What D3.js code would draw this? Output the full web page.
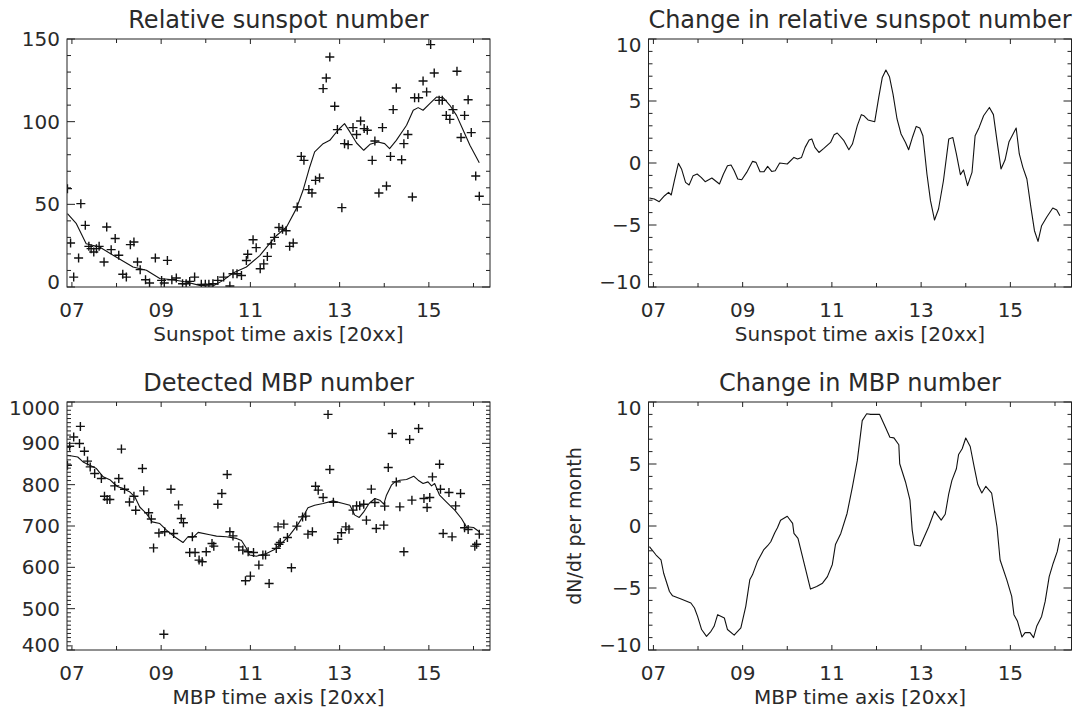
<!DOCTYPE html>
<html>
<head>
<meta charset="utf-8">
<script src="https://cdn.jsdelivr.net/npm/d3@7"></script>
<style>
  html, body { margin: 0; padding: 0; background: #fff; }
  svg { display: block; }
  text { font-family: "DejaVu Sans", sans-serif; fill: #2a2a2a; }
</style>
</head>
<body>
<svg id="chart" width="1088" height="713"></svg>
<script>
// ---------------- DATA ----------------
const xDomain = [2006.89, 2016.37];
const xTickYears = [2007, 2008, 2009, 2010, 2011, 2012, 2013, 2014, 2015, 2016];
const xTickLabels = {2007: "07", 2009: "09", 2011: "11", 2013: "13", 2015: "15"};

// Panel 1: relative sunspot number (monthly crosses + smoothed line)
const sunspotYears = [2006.90,2006.97,2007.04,2007.15,2007.20,2007.30,2007.38,2007.43,2007.49,2007.55,2007.61,2007.72,2007.78,2007.88,2007.97,2008.05,2008.14,2008.22,2008.31,2008.39,2008.47,2008.53,2008.65,2008.74,2008.87,2009.01,2009.07,2009.14,2009.24,2009.34,2009.48,2009.56,2009.64,2009.75,2009.90,2009.99,2010.07,2010.16,2010.27,2010.40,2010.54,2010.61,2010.70,2010.80,2010.91,2010.94,2011.06,2011.13,2011.22,2011.30,2011.38,2011.47,2011.54,2011.64,2011.72,2011.80,2011.88,2011.96,2012.05,2012.14,2012.20,2012.31,2012.38,2012.46,2012.55,2012.63,2012.70,2012.78,2012.89,2012.95,2013.05,2013.11,2013.19,2013.30,2013.38,2013.47,2013.55,2013.62,2013.73,2013.79,2013.88,2013.96,2014.05,2014.14,2014.20,2014.27,2014.39,2014.44,2014.53,2014.63,2014.68,2014.77,2014.87,2014.95,2015.04,2015.12,2015.23,2015.30,2015.39,2015.47,2015.54,2015.63,2015.72,2015.80,2015.88,2015.95,2016.05,2016.13];
const sunspotValues = [59.5,26.6,6,17.5,50.4,37.3,24.6,23.2,21.2,23.2,24.6,15.1,36.3,22.6,29.3,19.2,7.7,6,25.6,27.2,15.1,10.5,4.4,2.4,17.5,4,2.4,16.1,4.4,5.4,2,2,3.4,6,1.6,1.6,1.6,2,4,6,0.6,8,8,7,16,19.8,28.6,23.8,11,14,18.5,26,30,36,35,34,24.6,26.6,48.4,79,76.6,58.9,56.9,64.5,65.9,120,126.4,139.1,109.3,95.2,48,86.7,86.1,96.4,92.2,100.4,95.8,94.8,76.6,88.3,56.9,96.4,61.1,79,107.3,120.4,77,86.7,92.2,54.4,114.5,114.5,124.6,118,146.6,129.4,112.9,112.9,103.8,101.4,107.3,130.5,90.4,103.8,113.3,93.4,67.1,54.9];
const sunspotSmoothYears = [2006.90,2007.10,2007.32,2007.62,2007.99,2008.37,2008.67,2008.97,2009.26,2009.56,2009.86,2010.16,2010.39,2010.61,2010.91,2011.21,2011.43,2011.58,2011.81,2012.03,2012.18,2012.33,2012.44,2012.63,2012.78,2012.96,2013.11,2013.23,2013.38,2013.54,2013.68,2013.86,2014.01,2014.12,2014.27,2014.50,2014.65,2014.76,2014.87,2015.02,2015.17,2015.32,2015.47,2015.62,2015.77,2015.92,2016.13];
const sunspotSmoothValues = [44.4,38.3,26.2,24.2,18.1,12.1,10.1,5.1,4.4,3,1,0.6,4,8.5,12.1,19,26.2,31,36.3,47.4,58.5,72.6,81.7,86.7,88.7,94.8,98.8,93.8,87.1,82.7,86.3,87.7,86.7,83.7,88.7,97.8,106.9,108.5,106.9,110.9,114.9,114.5,109.9,103.8,94.8,85.7,75.2];

// Panel 2: change in relative sunspot number
const sunspotChangeYears = [2006.91,2007.02,2007.13,2007.25,2007.34,2007.40,2007.47,2007.56,2007.63,2007.72,2007.80,2007.89,2007.98,2008.07,2008.16,2008.31,2008.48,2008.57,2008.66,2008.74,2008.81,2008.89,2008.98,2009.09,2009.22,2009.30,2009.39,2009.48,2009.56,2009.65,2009.73,2009.83,2010.00,2010.15,2010.23,2010.32,2010.40,2010.49,2010.55,2010.62,2010.71,2010.82,2010.97,2011.05,2011.12,2011.27,2011.38,2011.46,2011.57,2011.66,2011.72,2011.81,2011.96,2012.05,2012.13,2012.21,2012.29,2012.37,2012.46,2012.55,2012.65,2012.72,2012.81,2012.89,2012.97,2013.04,2013.13,2013.21,2013.30,2013.39,2013.50,2013.62,2013.71,2013.79,2013.88,2013.95,2014.04,2014.14,2014.21,2014.30,2014.40,2014.53,2014.62,2014.70,2014.79,2014.88,2014.97,2015.13,2015.20,2015.28,2015.37,2015.46,2015.54,2015.62,2015.70,2015.82,2015.95,2016.04,2016.11];
const sunspotChangeValues = [-2.82,-2.9,-3.12,-2.64,-2.37,-2.58,-1.43,-0.03,-0.48,-1.56,-1.77,-1.02,-0.89,-1.16,-1.51,-1.21,-1.69,-0.89,-0.22,-0.16,-0.62,-1.29,-1.35,-0.76,0.13,0.05,-0.7,-0.7,-0.27,-0.68,-0.62,0,-0.08,0.45,0.32,0.45,1.26,1.85,1.94,1.26,0.85,1.18,1.66,2.28,2.42,1.8,1.07,1.53,3.01,3.9,3.81,3.47,3.33,5.29,6.9,7.5,6.96,5.56,3.55,2.34,1.66,1.07,2.12,2.95,2.82,2.2,-0.89,-3.04,-4.6,-3.71,-1.43,1.94,2.06,0.73,-0.94,-0.56,-1.83,-0.76,2.2,2.87,3.81,4.48,3.9,1.8,-0.48,0.24,1.72,2.82,0.73,-0.35,-1.29,-3.58,-5.46,-6.32,-5.06,-4.33,-3.63,-3.79,-4.25];

// Panel 3: detected MBP number (crosses + smoothed line)
const mbpYears = [2006.90,2006.95,2007.04,2007.17,2007.19,2007.28,2007.35,2007.41,2007.51,2007.66,2007.73,2007.79,2007.85,2007.96,2008.05,2008.11,2008.18,2008.29,2008.39,2008.43,2008.58,2008.61,2008.72,2008.78,2008.83,2008.95,2009.06,2009.08,2009.22,2009.28,2009.39,2009.45,2009.50,2009.64,2009.70,2009.76,2009.85,2009.92,2010.01,2010.14,2010.18,2010.27,2010.36,2010.48,2010.54,2010.61,2010.74,2010.83,2010.89,2010.95,2011.00,2011.07,2011.19,2011.28,2011.34,2011.42,2011.58,2011.62,2011.64,2011.67,2011.75,2011.83,2011.92,2012.04,2012.17,2012.24,2012.29,2012.39,2012.46,2012.52,2012.63,2012.74,2012.78,2012.86,2012.96,2013.04,2013.14,2013.21,2013.30,2013.38,2013.45,2013.54,2013.60,2013.71,2013.79,2013.82,2013.99,2014.01,2014.09,2014.18,2014.27,2014.35,2014.44,2014.57,2014.62,2014.68,2014.77,2014.89,2014.96,2015.02,2015.08,2015.24,2015.26,2015.32,2015.45,2015.52,2015.60,2015.71,2015.80,2015.88,2016.03,2016.07,2016.13];
const mbpValues = [847,893,915.5,899.5,941,881,857,843,827,815,772,764,764,797,815,886,789,758,772,738,839,785,732,717,647,683,438,686,789,682,751,718,708,636,674,636,617.5,613.4,637.6,657.8,651.3,752.8,778.6,824.5,686,676,649.6,641.7,567.5,637.6,578.8,636,605.4,629.6,629.6,561,645.8,698,656,660.3,704.5,672.3,599,699.7,722,723.8,680.3,686,796.3,786.7,769,970,836.7,757.5,668,683.5,698,692.4,738.3,748.7,748.7,752.8,714.2,789.1,757,694,702,748,841.5,923.7,806.7,746.3,637.6,909.2,762.5,1003,935.8,766.6,744.8,769,818.8,849.5,789,682,781,673.8,748.7,778.6,695.6,691.7,651.3,656,680.3];
const mbpSmoothYears = [2006.90,2007.13,2007.25,2007.40,2007.55,2007.70,2007.85,2007.96,2008.03,2008.14,2008.29,2008.41,2008.52,2008.67,2008.80,2008.97,2009.12,2009.30,2009.49,2009.60,2009.71,2009.83,2010.09,2010.24,2010.46,2010.69,2010.80,2010.91,2010.98,2011.13,2011.36,2011.54,2011.73,2011.88,2012.07,2012.22,2012.29,2012.44,2012.63,2012.85,2013.08,2013.23,2013.34,2013.44,2013.54,2013.66,2013.79,2013.90,2013.99,2014.05,2014.16,2014.24,2014.35,2014.50,2014.66,2014.76,2014.87,2014.98,2015.06,2015.13,2015.24,2015.39,2015.58,2015.73,2015.84,2016.00,2016.13];
const mbpSmoothValues = [871,867,855,847,839,819,812,801,795,791,783,770.5,746,730,710,706,690,674,660,674,672,684.5,679,675.5,674,670,665,646,630,627,633.6,643,661.7,678,704.5,730.3,744,750.4,754.5,760.8,754.5,750.4,726.3,720.7,734.2,754.5,766.6,762.5,752.8,774.6,798.8,806.7,810.8,812.5,820.5,810.8,802.8,806.7,797,802.8,774.6,758.4,738.3,718.2,698,696.5,686];

// Panel 4: change in MBP number (dN/dt per month)
const mbpChangeYears = [2006.91,2007.06,2007.17,2007.23,2007.36,2007.43,2007.62,2007.84,2007.92,2007.99,2008.08,2008.19,2008.29,2008.36,2008.44,2008.59,2008.66,2008.81,2008.96,2009.07,2009.16,2009.22,2009.33,2009.47,2009.56,2009.63,2009.72,2009.78,2009.85,2010.00,2010.12,2010.15,2010.24,2010.41,2010.52,2010.66,2010.79,2010.90,2011.01,2011.08,2011.20,2011.34,2011.46,2011.57,2011.68,2011.78,2011.87,2012.07,2012.20,2012.30,2012.39,2012.50,2012.52,2012.65,2012.75,2012.80,2012.85,2012.98,2013.17,2013.30,2013.45,2013.54,2013.62,2013.69,2013.79,2013.84,2013.92,2014.00,2014.10,2014.19,2014.27,2014.36,2014.45,2014.58,2014.70,2014.77,2014.92,2015.03,2015.08,2015.16,2015.26,2015.33,2015.44,2015.52,2015.59,2015.70,2015.78,2015.87,2015.96,2016.05,2016.11];
const mbpChangeValues = [-1.67,-2.34,-2.74,-3.81,-5.28,-5.63,-5.89,-6.21,-6.61,-7.29,-8.35,-8.9,-8.49,-8.09,-7.15,-7.42,-8.35,-8.8,-8.22,-6.48,-4.34,-3.94,-2.87,-1.93,-1.59,-1.27,-0.54,-0.14,0.47,0.79,0.21,-0.59,-1.0,-3.48,-5.09,-4.88,-4.61,-4.08,-3.1,-1.5,-0.6,1.01,3.15,5.29,8.5,9.05,9.0,9.0,7.96,7.16,7.11,6.55,5.02,3.55,2.08,-0.33,-1.53,-1.61,-0.06,1.2,0.47,0.95,2.62,3.68,4.62,5.77,6.23,7.1,6.41,4.75,3.34,2.66,3.2,2.66,-0.06,-2.74,-4.34,-5.68,-7.15,-7.69,-8.95,-8.6,-8.6,-9.0,-8.09,-7.29,-6.08,-4.08,-3.0,-2.07,-1.0];

// y-axis ticks
const sunspotYTicks = [0, 50, 100, 150];
const changeYTicks = [-10, -5, 0, 5, 10];
const mbpYTicks = [400, 500, 600, 700, 800, 900, 1000];

// ---------------- LAYOUT ----------------
const panels = [
  { title: "Relative sunspot number", xTitle: "Sunspot time axis [20xx]", yTitle: null,
    box: [67, 39, 490, 287], yDomain: [0, 150], yTicks: sunspotYTicks, yMinor: 10, shiftTop: false,
    crossX: sunspotYears, crossY: sunspotValues, lineX: sunspotSmoothYears, lineY: sunspotSmoothValues },
  { title: "Change in relative sunspot number", xTitle: "Sunspot time axis [20xx]", yTitle: null,
    box: [648.5, 39, 1071.5, 287], yDomain: [-10, 10], yTicks: changeYTicks, yMinor: 1, shiftTop: true,
    crossX: null, crossY: null, lineX: sunspotChangeYears, lineY: sunspotChangeValues },
  { title: "Detected MBP number", xTitle: "MBP time axis [20xx]", yTitle: null,
    box: [67, 402, 490, 650], yDomain: [400, 1000], yTicks: mbpYTicks, yMinor: 10, shiftTop: true,
    crossX: mbpYears, crossY: mbpValues, lineX: mbpSmoothYears, lineY: mbpSmoothValues },
  { title: "Change in MBP number", xTitle: "MBP time axis [20xx]", yTitle: "dN/dt per month",
    box: [648.5, 402, 1071.5, 650], yDomain: [-10, 10], yTicks: changeYTicks, yMinor: 1, shiftTop: true,
    crossX: null, crossY: null, lineX: mbpChangeYears, lineY: mbpChangeValues }
];

const svg = d3.select("#chart");
const ink = "#111";

panels.forEach((p, i) => {
  const [x0, y0, x1, y1] = p.box;
  const x = d3.scaleLinear().domain(xDomain).range([x0, x1]);
  const y = d3.scaleLinear().domain(p.yDomain).range([y1, y0]);
  const g = svg.append("g");

  const clipId = "clip" + i;
  svg.append("clipPath").attr("id", clipId)
    .append("rect").attr("x", x0).attr("y", y0).attr("width", x1 - x0).attr("height", y1 - y0);

  // data layer
  const data = g.append("g").attr("clip-path", `url(#${clipId})`);
  const lineData = p.lineX.map((v, k) => [v, p.lineY[k]]);
  data.append("path")
    .datum(lineData)
    .attr("fill", "none").attr("stroke", ink).attr("stroke-width", 1.1)
    .attr("stroke-linejoin", "round")
    .attr("d", d3.line().x(d => x(d[0])).y(d => y(d[1])));

  if (p.crossX) {
    const pts = p.crossX.map((v, k) => [v, p.crossY[k]]);
    const s = 4.5;
    data.selectAll("path.cross").data(pts).enter().append("path")
      .attr("class", "cross")
      .attr("fill", "none").attr("stroke", ink).attr("stroke-width", 1.4)
      .attr("d", d => {
        const cx = x(d[0]), cy = y(d[1]);
        return `M${cx - s},${cy}H${cx + s}M${cx},${cy - s}V${cy + s}`;
      });
  }

  // frame
  g.append("rect").attr("x", x0).attr("y", y0).attr("width", x1 - x0).attr("height", y1 - y0)
    .attr("fill", "none").attr("stroke", "#222").attr("stroke-width", 1);

  // x ticks (bottom and top, inward)
  const xt = g.append("g").attr("stroke", "#222").attr("stroke-width", 1);
  xTickYears.forEach(yr => {
    const px = x(yr);
    const len = xTickLabels[yr] ? 5 : 4;
    xt.append("line").attr("x1", px).attr("x2", px).attr("y1", y1).attr("y2", y1 - len);
    xt.append("line").attr("x1", px).attr("x2", px).attr("y1", y0).attr("y2", y0 + len);
  });
  xTickYears.filter(yr => xTickLabels[yr]).forEach(yr => {
    g.append("text").attr("x", x(yr)).attr("y", y1 + 30)
      .attr("text-anchor", "middle").attr("font-size", 20)
      .text(xTickLabels[yr]);
  });

  // y ticks (left and right, inward)
  const yt = g.append("g").attr("stroke", "#222").attr("stroke-width", 1);
  const [ymin, ymax] = p.yDomain;
  const majorStep = p.yTicks[1] - p.yTicks[0];
  d3.range(ymin, ymax + p.yMinor / 2, p.yMinor).forEach(v => {
    const py = y(v);
    const r = (v - p.yTicks[0]) / majorStep;
    const isMajor = Math.abs(r - Math.round(r)) < 1e-6;
    const len = isMajor ? 8 : 4;
    yt.append("line").attr("x1", x0).attr("x2", x0 + len).attr("y1", py).attr("y2", py);
    yt.append("line").attr("x1", x1).attr("x2", x1 - len).attr("y1", py).attr("y2", py);
  });
  p.yTicks.forEach(v => {
    let py = y(v) + 7;
    if (v === ymin) py -= 5;
    if (v === ymax && p.shiftTop) py += 6;
    g.append("text").attr("x", x0 - 7).attr("y", py)
      .attr("text-anchor", "end").attr("font-size", 20)
      .text(v < 0 ? "\u2212" + Math.abs(v) : String(v));
  });

  // titles
  g.append("text").attr("x", (x0 + x1) / 2).attr("y", y0 - 11)
    .attr("text-anchor", "middle").attr("font-size", 24).text(p.title);
  g.append("text").attr("x", (x0 + x1) / 2).attr("y", y1 + 54)
    .attr("text-anchor", "middle").attr("font-size", 20).text(p.xTitle);
  if (p.yTitle) {
    const cy = (y0 + y1) / 2;
    g.append("text").attr("transform", `translate(${x0 - 68},${cy}) rotate(-90)`)
      .attr("text-anchor", "middle").attr("font-size", 19).text(p.yTitle);
  }
});
</script>
</body>
</html>
